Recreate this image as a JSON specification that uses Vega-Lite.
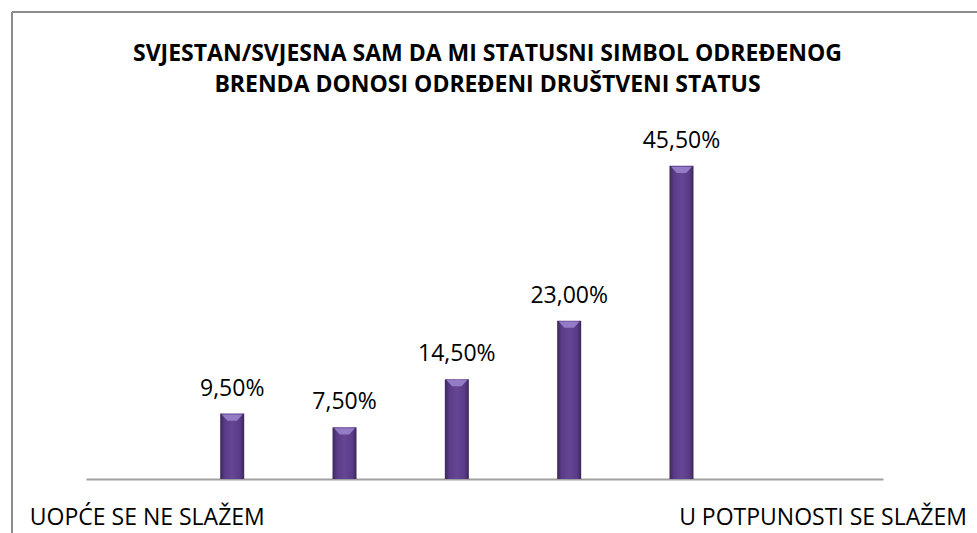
{
  "$schema": "https://vega.github.io/schema/vega-lite/v6.json",
  "width": 797,
  "height": 349,
  "autosize": {"type": "none"},
  "padding": {"left": 86, "top": 130, "right": 94, "bottom": 54},
  "background": "white",
  "config": {
    "view": {"stroke": null},
    "locale": {"number": {"decimal": ",", "thousands": ".", "grouping": [3], "currency": ["", " €"]}},
    "font": "Open Sans"
  },
  "title": {
    "text": ["SVJESTAN/SVJESNA SAM DA MI STATUSNI SIMBOL ODREĐENOG", "BRENDA DONOSI ODREĐENI DRUŠTVENI STATUS"],
    "fontSize": 23,
    "fontWeight": "bold",
    "font": "Open Sans",
    "color": "#000000",
    "lineHeight": 31,
    "anchor": "middle",
    "frame": "group",
    "offset": -86,
    "dx": 3
  },
  "datasets": {
    "bars": [
      {"cat": 1, "value": 0.095},
      {"cat": 2, "value": 0.075},
      {"cat": 3, "value": 0.145},
      {"cat": 4, "value": 0.23},
      {"cat": 5, "value": 0.455}
    ],
    "ends": [
      {"pos": 0.244, "text": "UOPĆE SE NE SLAŽEM"},
      {"pos": 6.26, "text": "U POTPUNOSTI SE SLAŽEM"}
    ],
    "frame": [{}]
  },
  "layer": [
    {
      "data": {"name": "bars"},
      "mark": {
        "type": "bar",
        "size": 24,
        "fill": {
          "gradient": "linear",
          "x1": 0, "x2": 1, "y1": 0, "y2": 0,
          "stops": [
            {"offset": 0, "color": "#3b2658"},
            {"offset": 0.18, "color": "#5a3b88"},
            {"offset": 0.5, "color": "#664694"},
            {"offset": 0.82, "color": "#5a3b88"},
            {"offset": 1, "color": "#3b2658"}
          ]
        }
      },
      "encoding": {
        "x": {
          "field": "cat", "type": "quantitative",
          "scale": {"domain": [-0.2571, 6.7495], "nice": false, "zero": false},
          "axis": {"title": null, "labels": false, "ticks": false, "grid": false, "domainColor": "#a0a0a0", "domainWidth": 2}
        },
        "y": {
          "field": "value", "type": "quantitative",
          "scale": {"domain": [0, 0.507], "nice": false},
          "axis": null
        }
      }
    },
    {
      "data": {"name": "frame"},
      "mark": {"type": "rule", "color": "#8c8c8c", "strokeWidth": 2, "clip": false},
      "encoding": {
        "x": {"datum": -0.9604, "type": "quantitative"},
        "y": {"datum": 0.6784, "type": "quantitative"},
        "y2": {"datum": -0.2}
      }
    },
    {
      "data": {"name": "frame"},
      "mark": {"type": "rule", "color": "#8c8c8c", "strokeWidth": 2, "clip": false},
      "encoding": {
        "x": {"datum": -0.9604, "type": "quantitative"},
        "x2": {"datum": 9},
        "y": {"datum": 0.6784, "type": "quantitative"}
      }
    },
    {
      "data": {"name": "bars"},
      "mark": {"type": "point", "shape": "M-1,-0.3 L1,-0.3 L0.45,0.3 L-0.45,0.3 Z", "filled": true, "color": "#9a82cc", "opacity": 0.9, "size": 440, "yOffset": 4},
      "encoding": {
        "x": {"field": "cat", "type": "quantitative"},
        "y": {"field": "value", "type": "quantitative"}
      }
    },
    {
      "data": {"name": "bars"},
      "mark": {"type": "text", "fontSize": 23, "font": "Open Sans", "color": "#000000", "baseline": "alphabetic", "dy": -18},
      "encoding": {
        "x": {"field": "cat", "type": "quantitative"},
        "y": {"field": "value", "type": "quantitative"},
        "text": {"field": "value", "type": "quantitative", "format": ".2%"}
      }
    },
    {
      "data": {"name": "ends"},
      "mark": {"type": "text", "fontSize": 23, "font": "Open Sans", "color": "#000000", "baseline": "alphabetic", "align": "center", "dy": 46},
      "encoding": {
        "x": {"field": "pos", "type": "quantitative"},
        "y": {"datum": 0, "type": "quantitative"},
        "text": {"field": "text", "type": "nominal"}
      }
    }
  ]
}
